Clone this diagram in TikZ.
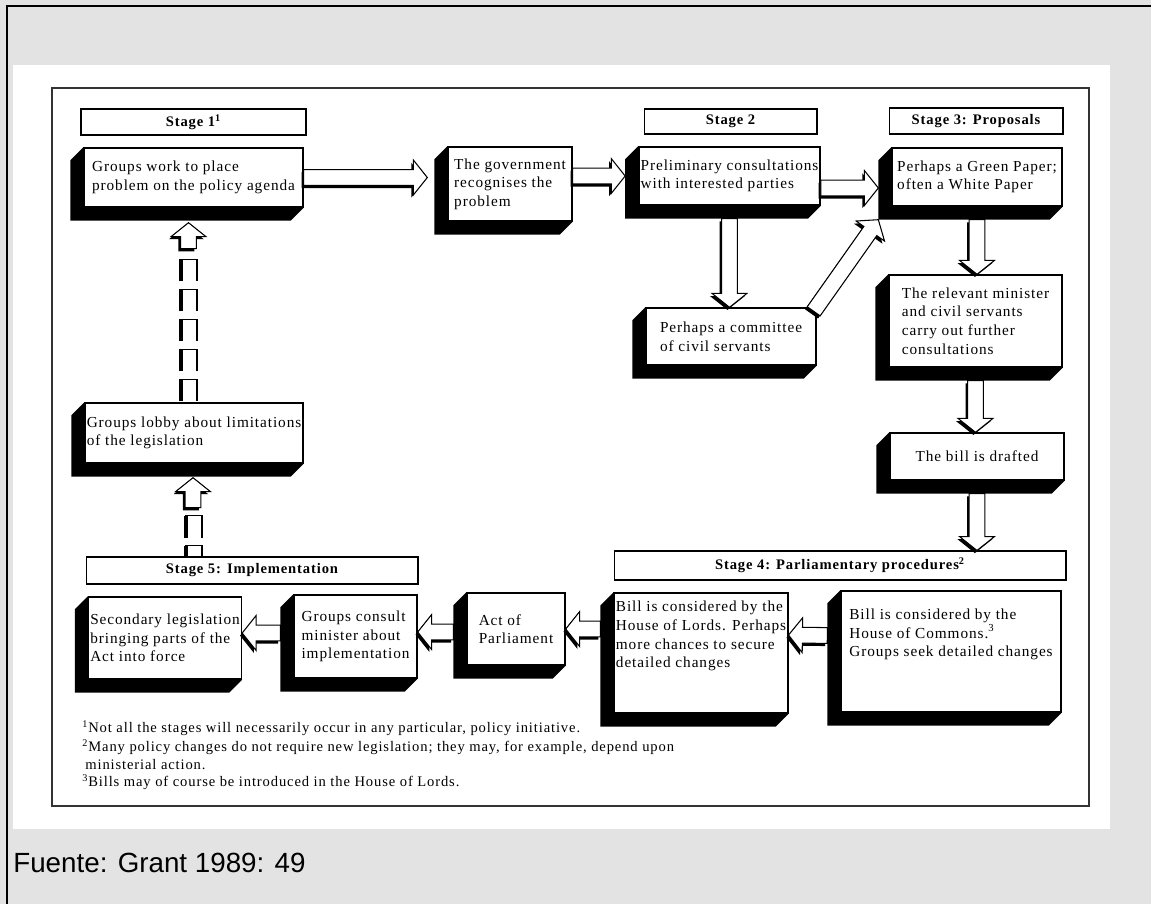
\documentclass[tikz,border=0pt]{standalone}
\usepackage{fontspec}
\setmainfont{Liberation Serif}[LetterSpace=6]
\newfontfamily\sourcefont{Liberation Sans}
\usepackage{tikz}
\usetikzlibrary{calc}
\definecolor{pagegray}{RGB}{227,227,227}
\pgfdeclarelayer{back}
\pgfdeclarelayer{shade}
\pgfsetlayers{back,shade,main}

\newcommand{\hollowarrow}[2]{%
  \coordinate (hs) at (#1);
  \coordinate (he) at (#2);
  \coordinate (hb) at ($(he)!7.9pt!(hs)$);
  \coordinate (h1) at ($(hs)!4.5pt!90:(he)$);
  \coordinate (h2) at ($(hb)!4.5pt!-90:(hs)$);
  \coordinate (h3) at ($(hb)!9.9pt!-90:(hs)$);
  \coordinate (h5) at ($(hb)!9.9pt!90:(hs)$);
  \coordinate (h6) at ($(hb)!4.5pt!90:(hs)$);
  \coordinate (h7) at ($(hs)!4.5pt!-90:(he)$);
  \fill[transform canvas={shift={(-1.2pt,-1.5pt)}}] (h1) -- (h2) -- (h3) -- (he) -- (h5) -- (h6) -- (h7) -- cycle;
  \draw[fill=white, line width=0.6pt] (h1) -- (h2) -- (h3) -- (he) -- (h5) -- (h6) -- (h7) -- cycle;
}

\begin{document}
\begin{tikzpicture}[x=0.02cm, y=-0.02cm,
  box/.style={draw, fill=white, line width=0.8pt, inner xsep=1pt, inner ysep=2pt, align=left, font=\fontsize{8.7}{10.6}\selectfont},
  stage/.style={draw, fill=white, line width=0.6pt, inner sep=0pt, font=\bfseries\fontsize{8.3}{10}\selectfont},
  note/.style={anchor=base west, inner sep=0pt, font=\fontsize{8.3}{10}\selectfont}]

\useasboundingbox (0,0) rectangle (1151,904);

\begin{pgfonlayer}{back}
\fill[pagegray] (0,0) rectangle (1151,904);
\fill[white] (13,65) rectangle (1110,829);
\draw[line width=1.4pt] (7,904) -- (7,6) -- (1151,6);
\draw[black!80, line width=0.7pt] (52,88) rectangle (1089,806);
\end{pgfonlayer}

\node[stage, minimum width=4.50cm, minimum height=0.52cm] (s1) at (193.5,122) {Stage 1\textsuperscript{1}};
\node[stage, minimum width=3.46cm, minimum height=0.50cm] (s2) at (730.5,121.5) {Stage 2};
\node[stage, minimum width=3.48cm, minimum height=0.52cm] (s3) at (976,121) {Stage 3: Proposals};
\node[stage, minimum width=9.04cm, minimum height=0.58cm] (s4) at (840,565.5) {Stage 4: Parliamentary procedures\textsuperscript{2}};
\node[stage, minimum width=6.64cm, minimum height=0.54cm] (s5) at (252,570.5) {Stage 5: Implementation};

\node[box, minimum width=4.38cm, minimum height=1.18cm] (gwork) at (193.5,177.5) {Groups work to place\\problem on the policy agenda};
\node[box, minimum width=2.48cm, minimum height=1.48cm] (gov) at (510,184) {The government\\recognises the\\problem};
\node[box, minimum width=3.42cm, minimum height=1.16cm] (prelim) at (729.5,176) {Preliminary consultations\\with interested parties};
\node[box, minimum width=3.40cm, minimum height=1.16cm] (green) at (977,177) {Perhaps a Green Paper;\\often a White Paper};
\node[box, minimum width=3.40cm, minimum height=1.14cm] (committee) at (731,336.5) {Perhaps a committee\\of civil servants};
\node[box, minimum width=3.46cm, minimum height=1.84cm] (relevant) at (975.5,321) {The relevant minister\\and civil servants\\carry out further\\consultations};
\node[box, minimum width=3.48cm, minimum height=0.94cm] (drafted) at (977,456.5) {The bill is drafted};
\node[box, minimum width=4.40cm, minimum height=2.42cm] (commons) at (951,651.5) {Bill is considered by the\\House of Commons.\textsuperscript{3}\\Groups seek detailed changes\\\mbox{}\\\mbox{}};
\node[box, minimum width=3.36cm, minimum height=2.40cm] (lords) at (701,653) {Bill is considered by the\\House of Lords. Perhaps\\more chances to secure\\detailed changes\\\mbox{}\\\mbox{}};
\node[box, minimum width=1.96cm, minimum height=1.44cm] (act) at (516,629) {Act of\\Parliament};
\node[box, minimum width=2.46cm, minimum height=1.66cm] (consult) at (355.5,636.5) {Groups consult\\minister about\\implementation};
\node[box, minimum width=2.88cm, minimum height=1.64cm] (secondary) at (165,638) {Secondary legislation\\bringing parts of the\\Act into force};
\node[box, minimum width=4.32cm, minimum height=1.20cm] (lobby) at (194,433) {Groups lobby about limitations\\of the legislation};

\begin{pgfonlayer}{shade}
\foreach \b in {gwork,gov,prelim,green,committee,relevant,drafted,commons,lords,act,consult,secondary,lobby}
  \fill (\b.north west) -- ++(-13,13) -- ($(\b.south west)+(-13,13)$) -- ($(\b.south east)+(-13,13)$) -- (\b.south east) -- cycle;
\foreach \k in {0,...,4} {
  \draw[line width=0.6pt] ($(lobby.north)+(-13,-1-30*\k)$) -- ++(0,-22) -- ++(16,0) -- ++(0,22);
  \draw[line width=1.8pt] ($(lobby.north)+(-13,-1-30*\k)$) -- ++(0,-22);
}
\foreach \k in {0,1} {
  \draw[line width=0.6pt] ($(lobby.south)+(-8,104-30*\k)$) -- ++(0,-22) -- ++(16,0) -- ++(0,22);
  \draw[line width=1.8pt] ($(lobby.south)+(-8,104-30*\k)$) -- ++(0,-22);
}
\end{pgfonlayer}

\hollowarrow{gwork.east}{$(gwork.east -| gov.west)+(-20,0)$}
\hollowarrow{gov.east |- prelim.west}{$(prelim.west)+(-13,0)$}
\hollowarrow{$(prelim.east)+(0,12)$}{$(green.west)+(-13,11)$}
\hollowarrow{$(prelim.south)+(0,13)$}{committee.north -| prelim.south}
\hollowarrow{$(committee.north east)+(-3,4)$}{$(green.south west)+(-13,13)$}
\hollowarrow{$(green.south)+(0,13)$}{relevant.north -| green.south}
\hollowarrow{$(relevant.south)+(0,13)$}{drafted.north -| relevant.south}
\hollowarrow{$(drafted.south)+(0,13)$}{s4.north -| drafted.south}
\hollowarrow{$(commons.west)+(-13,-16)$}{$(lords.east)+(0,-18)$}
\hollowarrow{$(lords.west)+(-13,-24)$}{act.east}
\hollowarrow{$(act.west)+(-13,3)$}{$(consult.east)+(0,-4.5)$}
\hollowarrow{$(consult.west)+(-13,-3.5)$}{$(secondary.east)+(0,-5)$}
\hollowarrow{$(gwork.south)+(-5,41)$}{$(gwork.south)+(-5,15)$}
\hollowarrow{$(lobby.south)+(-1,44)$}{$(lobby.south)+(-1,14)$}

\node[note] (fn1) at (82,732) {\textsuperscript{1}Not all the stages will necessarily occur in any particular, policy initiative.};
\node[note] (fn2) at (82,751) {\textsuperscript{2}Many policy changes do not require new legislation; they may, for example, depend upon};
\node[note] (fn3) at (85,769) {ministerial action.};
\node[note] (fn4) at (82,786) {\textsuperscript{3}Bills may of course be introduced in the House of Lords.};

\node[anchor=base west, inner sep=0pt, font=\sourcefont\fontsize{15.8}{18}\selectfont] (source) at (13,872) {Fuente: Grant 1989: 49};
\end{tikzpicture}
\end{document}
